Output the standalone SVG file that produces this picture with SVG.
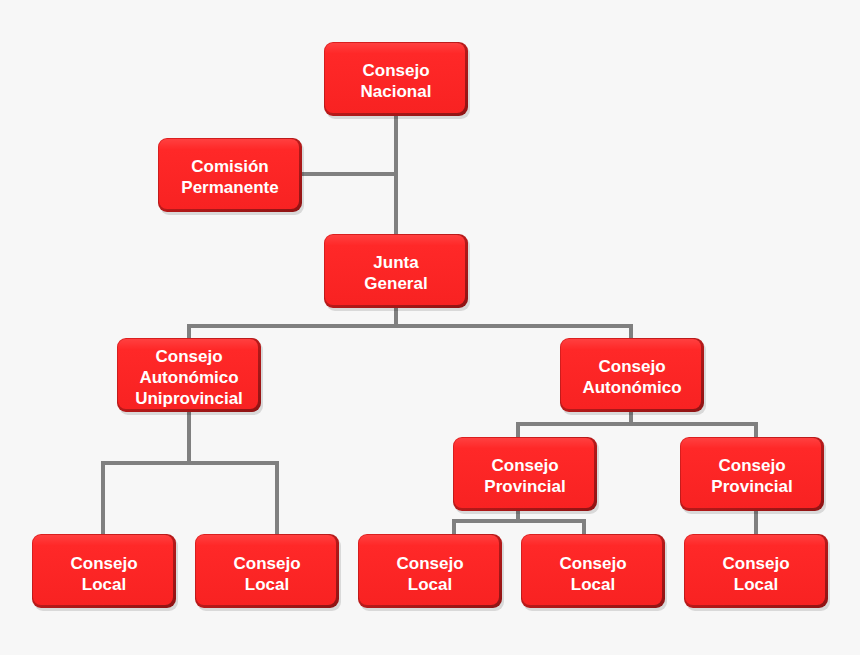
<svg xmlns="http://www.w3.org/2000/svg" width="860" height="655" viewBox="0 0 860 655">
<defs>
<linearGradient id="face" x1="0" y1="0" x2="0" y2="1">
<stop offset="0" stop-color="#ff4040"/>
<stop offset="0.15" stop-color="#ff2828"/>
<stop offset="1" stop-color="#f82222"/>
</linearGradient>
<linearGradient id="edge" x1="0" y1="0" x2="1" y2="1">
<stop offset="0" stop-color="#e02020"/>
<stop offset="1" stop-color="#8e1414"/>
</linearGradient>
</defs>
<style>
.bg{fill:#f7f7f7}
.sh{fill:#000;opacity:0.12}
.edge{fill:url(#edge)}
.face{fill:url(#face)}
.c{fill:none;stroke:#808080;stroke-width:4;stroke-linecap:butt;stroke-linejoin:miter}
text{font-family:"Liberation Sans",Arial,sans-serif;font-weight:bold;font-size:17px;fill:#fff;text-anchor:middle}
</style>
<rect class="bg" width="860" height="655"/>
<g id="connectors">
<path class="c" d="M396 116V234M302 174H396"/>
<path class="c" d="M396 308V326M189 338V326H631V338"/>
<path class="c" d="M189 412V463M103 534V463H277V534"/>
<path class="c" d="M631 412V424M518 437V424H756V437"/>
<path class="c" d="M518 511V521M454 534V521H584V534"/>
<path class="c" d="M756 511V534"/>
</g>
<g id="n-nacional">
<rect class="sh" x="326" y="45" width="144" height="74" rx="9"/>
<rect class="edge" x="324" y="42" width="144" height="74" rx="9"/>
<rect class="face" x="325" y="43" width="140" height="70" rx="8"/>
<text x="396" y="76">Consejo</text><text x="396" y="97">Nacional</text>
</g>
<g id="n-comision">
<rect class="sh" x="160" y="141" width="144" height="74" rx="9"/>
<rect class="edge" x="158" y="138" width="144" height="74" rx="9"/>
<rect class="face" x="159" y="139" width="140" height="70" rx="8"/>
<text x="230" y="172">Comisión</text><text x="230" y="193">Permanente</text>
</g>
<g id="n-junta">
<rect class="sh" x="326" y="237" width="144" height="74" rx="9"/>
<rect class="edge" x="324" y="234" width="144" height="74" rx="9"/>
<rect class="face" x="325" y="235" width="140" height="70" rx="8"/>
<text x="396" y="268">Junta</text><text x="396" y="289">General</text>
</g>
<g id="n-auto-uni">
<rect class="sh" x="119" y="341" width="144" height="74" rx="9"/>
<rect class="edge" x="117" y="338" width="144" height="74" rx="9"/>
<rect class="face" x="118" y="339" width="140" height="70" rx="8"/>
<text x="189" y="362">Consejo</text><text x="189" y="383">Autonómico</text><text x="189" y="404">Uniprovincial</text>
</g>
<g id="n-auto">
<rect class="sh" x="562" y="341" width="144" height="74" rx="9"/>
<rect class="edge" x="560" y="338" width="144" height="74" rx="9"/>
<rect class="face" x="561" y="339" width="140" height="70" rx="8"/>
<text x="632" y="372">Consejo</text><text x="632" y="393">Autonómico</text>
</g>
<g id="n-prov1">
<rect class="sh" x="455" y="440" width="144" height="74" rx="9"/>
<rect class="edge" x="453" y="437" width="144" height="74" rx="9"/>
<rect class="face" x="454" y="438" width="140" height="70" rx="8"/>
<text x="525" y="471">Consejo</text><text x="525" y="492">Provincial</text>
</g>
<g id="n-prov2">
<rect class="sh" x="682" y="440" width="144" height="74" rx="9"/>
<rect class="edge" x="680" y="437" width="144" height="74" rx="9"/>
<rect class="face" x="681" y="438" width="140" height="70" rx="8"/>
<text x="752" y="471">Consejo</text><text x="752" y="492">Provincial</text>
</g>
<g id="n-local1">
<rect class="sh" x="34" y="537" width="144" height="74" rx="9"/>
<rect class="edge" x="32" y="534" width="144" height="74" rx="9"/>
<rect class="face" x="33" y="535" width="140" height="70" rx="8"/>
<text x="104" y="569">Consejo</text><text x="104" y="590">Local</text>
</g>
<g id="n-local2">
<rect class="sh" x="197" y="537" width="144" height="74" rx="9"/>
<rect class="edge" x="195" y="534" width="144" height="74" rx="9"/>
<rect class="face" x="196" y="535" width="140" height="70" rx="8"/>
<text x="267" y="569">Consejo</text><text x="267" y="590">Local</text>
</g>
<g id="n-local3">
<rect class="sh" x="360" y="537" width="144" height="74" rx="9"/>
<rect class="edge" x="358" y="534" width="144" height="74" rx="9"/>
<rect class="face" x="359" y="535" width="140" height="70" rx="8"/>
<text x="430" y="569">Consejo</text><text x="430" y="590">Local</text>
</g>
<g id="n-local4">
<rect class="sh" x="523" y="537" width="144" height="74" rx="9"/>
<rect class="edge" x="521" y="534" width="144" height="74" rx="9"/>
<rect class="face" x="522" y="535" width="140" height="70" rx="8"/>
<text x="593" y="569">Consejo</text><text x="593" y="590">Local</text>
</g>
<g id="n-local5">
<rect class="sh" x="686" y="537" width="144" height="74" rx="9"/>
<rect class="edge" x="684" y="534" width="144" height="74" rx="9"/>
<rect class="face" x="685" y="535" width="140" height="70" rx="8"/>
<text x="756" y="569">Consejo</text><text x="756" y="590">Local</text>
</g>
</svg>
